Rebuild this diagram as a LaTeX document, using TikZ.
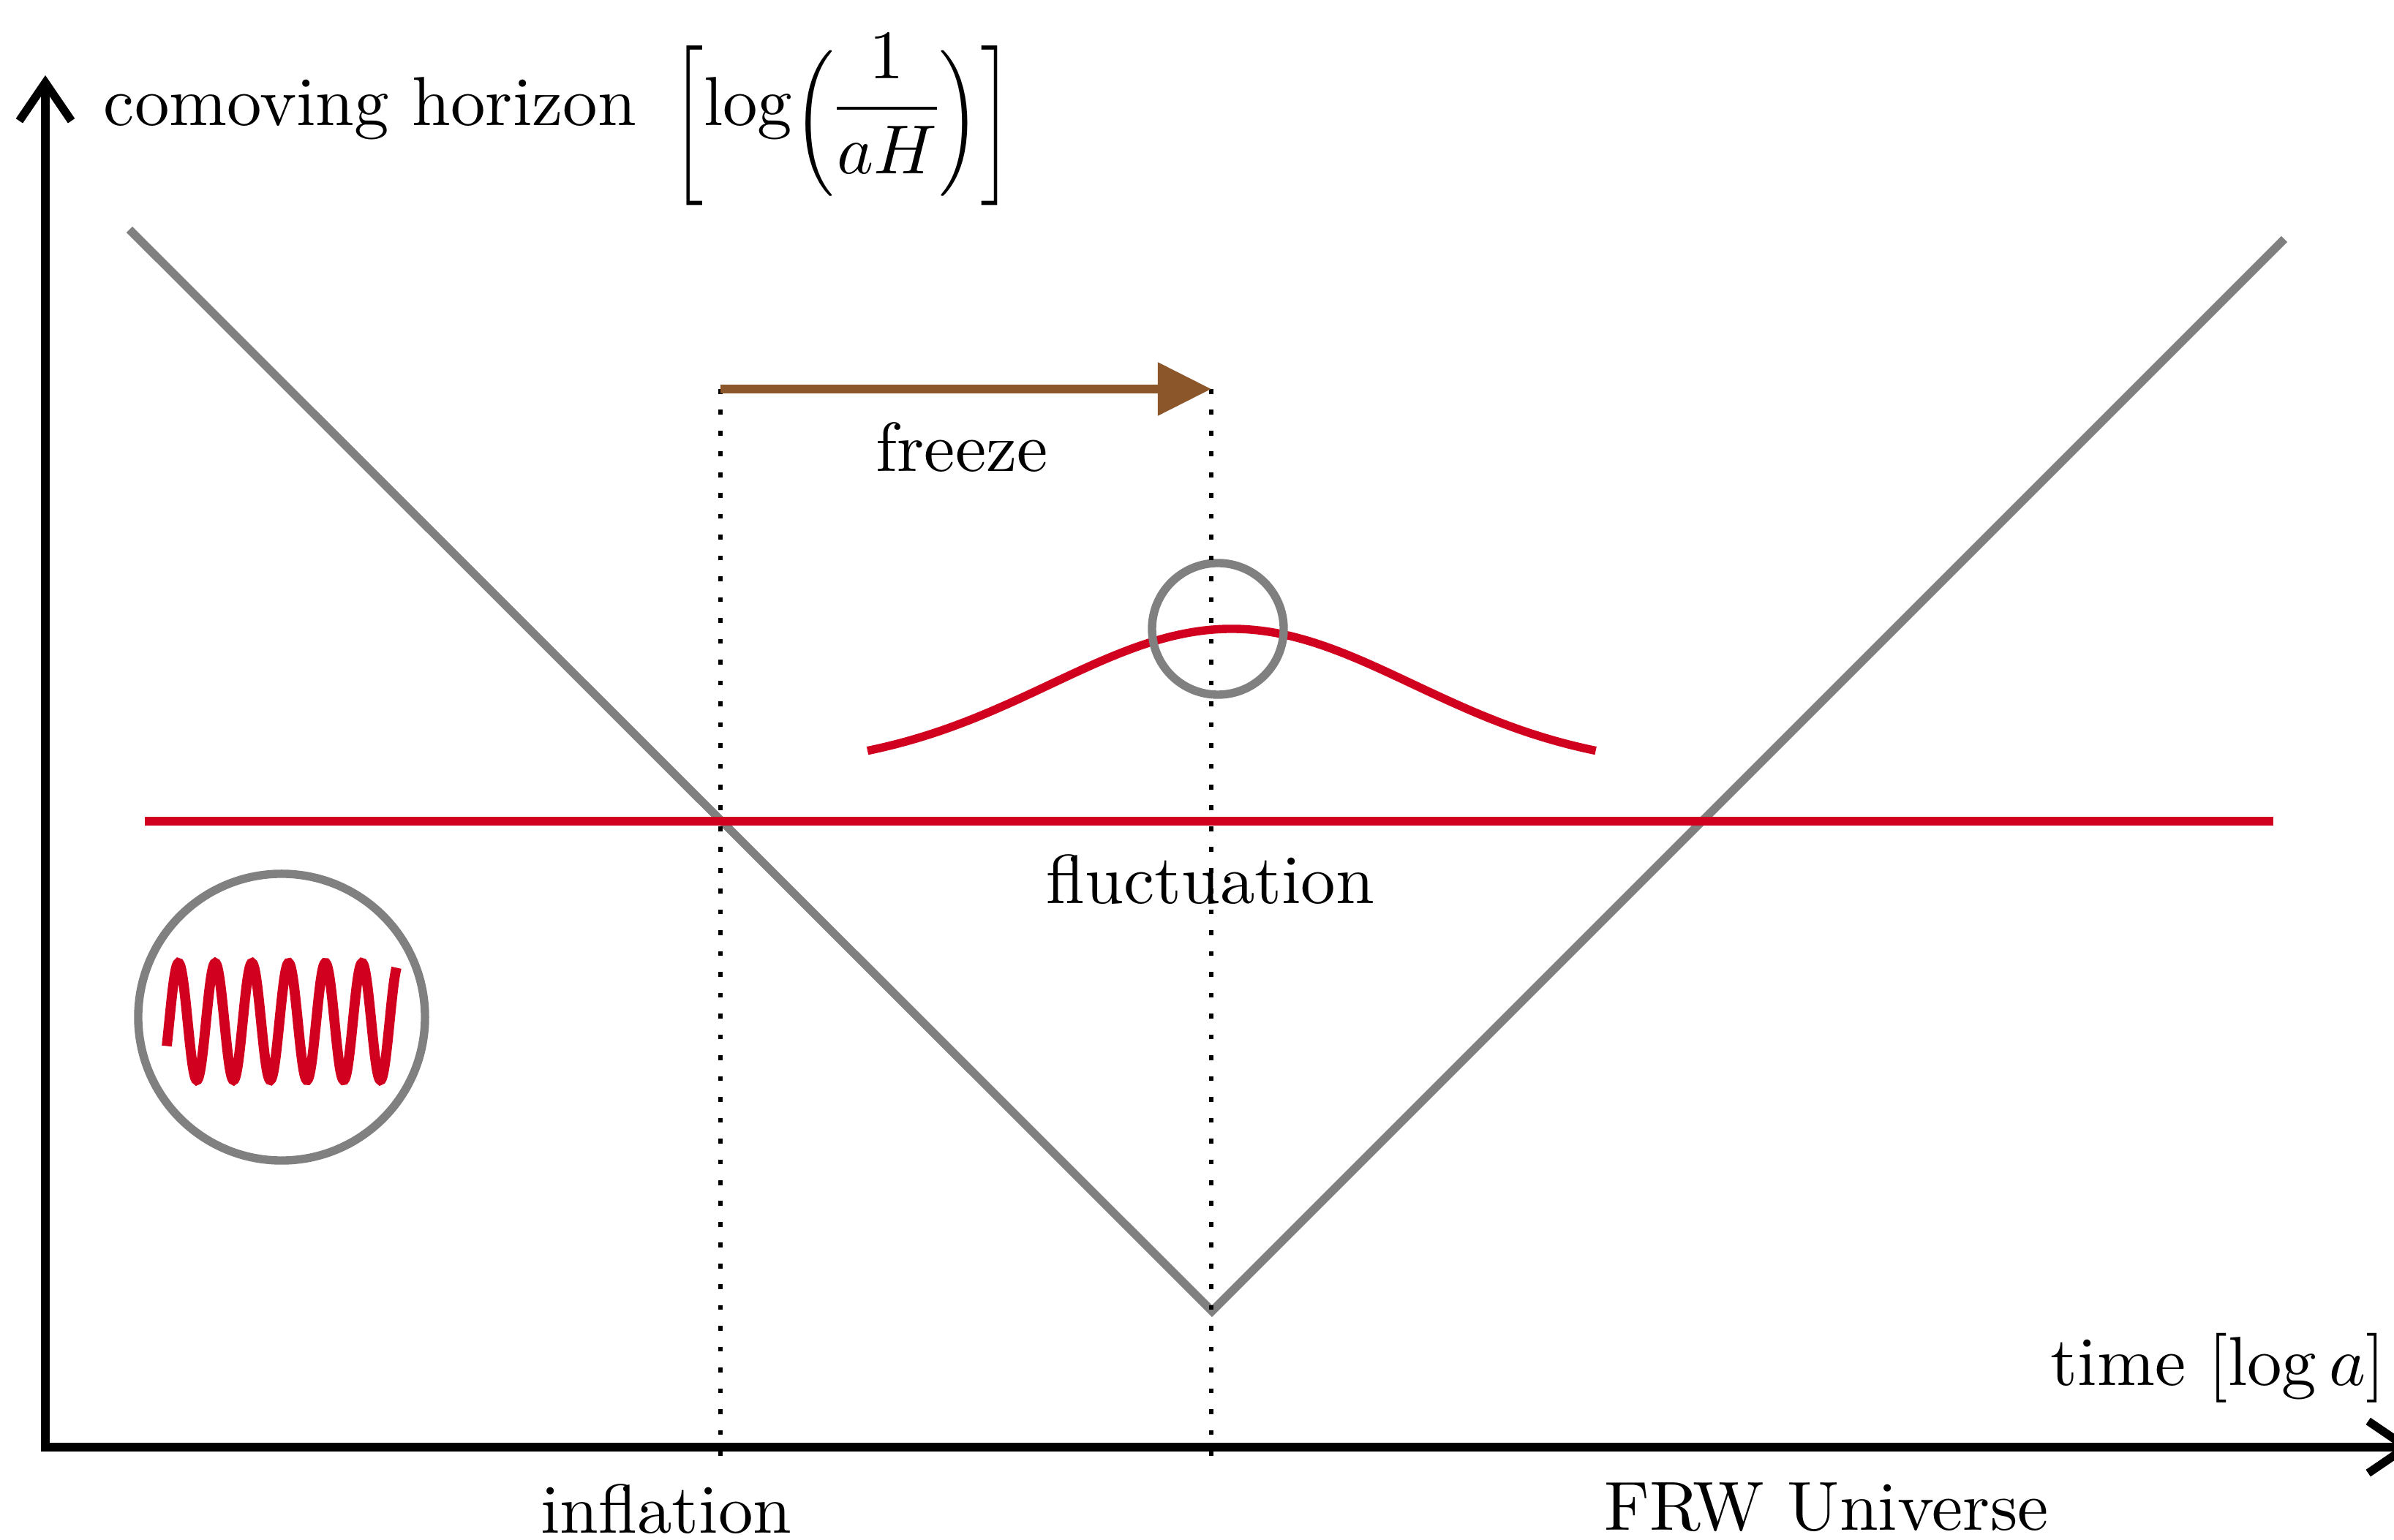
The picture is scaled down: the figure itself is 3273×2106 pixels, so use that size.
\documentclass[tikz,border=0pt]{standalone}
\usepackage{amsmath}
\usepackage{graphicx}
\usetikzlibrary{arrows.meta}
\definecolor{hred}{RGB}{208,0,30}
\definecolor{hgray}{RGB}{128,128,128}
\definecolor{hbrown}{RGB}{139,87,42}
\newcommand{\mydelim}[3]{\raisebox{#3}{$\vcenter{\hbox{\resizebox*{\width}{#2}{$#1$}}}$}}
\begin{document}
\begin{tikzpicture}[x=0.037037mm,y=-0.037037mm,
  axisline/.style={line width=1.2pt, {Straight Barb[length=5.5pt,width=7.5pt]}-{Straight Barb[length=5.5pt,width=7.5pt]}},
  horizon/.style={hgray, line width=1.2pt},
  fluct/.style={hred, line width=1.2pt},
  wave/.style={hred, line width=1.45pt},
  guide/.style={line width=0.7pt, dash pattern=on 0.7pt off 2.3pt},
  ring/.style={circle, draw=hgray, line width=1.2pt, inner sep=0pt},
  frzarrow/.style={hbrown, line width=1.2pt, -{Triangle[length=7.7pt,width=7.4pt]}},
  lbl/.style={inner sep=0pt, anchor=base}]
\useasboundingbox (0,0) rectangle (3273,2106);
% axes
\coordinate (O) at (62,1979);
\coordinate (ytip) at (62,103);
\coordinate (xtip) at (3300,1979);
\draw[axisline] (ytip) -- (O) -- (xtip);
% horizon V
\coordinate (vl) at (177,314);
\coordinate (vb) at (1657,1793);
\coordinate (vr) at (3123,327);
\draw[horizon] (vl) -- (vb) -- (vr);
% fluctuation line
\coordinate (fl) at (198,1123);
\coordinate (fr) at (3108,1123);
\draw[fluct] (fl) -- (fr);
% bump
\draw[fluct] plot[domain=-1:1, samples=120, variable=\t] ({1684+498*\t},{1052-192*exp(-2.026*\t*\t)});
% small circle
\node[ring, minimum size=0.6667cm] (sc) at (1665,860) {};
% big circle with oscillation
\node[ring, minimum size=1.452cm] (bc) at (385,1391) {};
\draw[wave] plot[domain=228:542, samples=300, variable=\x] ({\x},{1397-80*cos(7.171*(\x-244))});
% guides
\coordinate (g1t) at (985,532);
\coordinate (g1b) at (985,1992);
\coordinate (g2t) at (1656,532);
\coordinate (g2b) at (1656,1992);
\draw[guide] (g1t) -- (g1b);
\draw[guide] (g2t) -- (g2b);
% freeze arrow
\draw[frzarrow] (g1t) -- (g2t);
% labels
\node[lbl, anchor=base west] (ylab) at (140,172) {comoving horizon $\nulldelimiterspace=0.3pt
  \mkern3mu\mydelim{\Bigl[}{23pt}{-2.5pt}\mathrm{log}\mydelim{\Bigl(}{21pt}{-2.2pt}{\dfrac{1}{aH}}\mydelim{\Bigr)}{21pt}{-2.2pt}\mydelim{\Bigr]}{23pt}{-2.5pt}$};
\node[lbl, anchor=base east] (xlab) at (3263,1895) {time $[\log a]$};
\node[lbl] (frz) at (1315,645) {freeze};
\node[lbl] (flu) at (1655,1236) {fluctuation};
\node[lbl] (inf) at (911,2096) {inflation};
\node[lbl] (frw) at (2497,2092) {FRW Universe};
\end{tikzpicture}
\end{document}
